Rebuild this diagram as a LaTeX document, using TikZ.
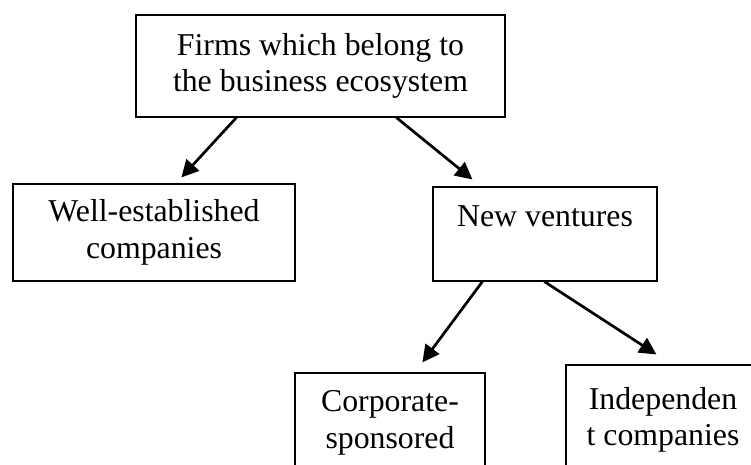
\documentclass[tikz,border=0pt]{standalone}
\usepackage{fontspec}
\setmainfont{Liberation Serif}
\usetikzlibrary{arrows.meta}
\begin{document}
\begin{tikzpicture}[x=1pt,y=-1pt,
  box/.style={draw=black,line width=1.2pt,rectangle,inner sep=0pt,align=center,
    font=\fontsize{31.8}{36.5}\selectfont},
  caption/.style={inner sep=0pt,align=center,font=\fontsize{31.8}{36.5}\selectfont},
  arr/.style={line width=2.7pt,-{Triangle[length=17pt,width=17pt]}}]
\useasboundingbox (0,0) rectangle (751,465);
\clip (0,0) rectangle (751,465);
\fill[white] (0,0) rectangle (751,465);
% hierarchy boxes
\node[box,minimum width=369pt,minimum height=102pt] (firms) at (320.5,66)
  {Firms which belong to\\the business ecosystem};
\node[box,minimum width=282pt,minimum height=97pt] (well) at (154,232.5)
  {Well-established\\companies};
\node[box,minimum width=224pt,minimum height=94pt] (new) at (545,234)
  {New ventures\\\mbox{}};
\node[box,minimum width=190pt,minimum height=120pt] (corp) at (390,433) {};
\node[caption] (corptext) at (390,423) {Corporate-\\sponsored};
\node[box,minimum width=194pt,minimum height=120pt] (indep) at (663,425) {};
\node[caption] (indeptext) at (663,420) {Independen\\t companies};
% connectors
\draw[arr] ([xshift=101pt]firms.south west) -- ([xshift=169pt,yshift=6pt]well.north west);
\draw[arr] ([xshift=261pt]firms.south west) -- ([xshift=40pt,yshift=7pt]new.north west);
\draw[arr] ([xshift=50pt]new.south west) -- ([xshift=128pt,yshift=10pt]corp.north west);
\draw[arr] ([xshift=112pt]new.south west) -- ([xshift=91pt,yshift=10pt]indep.north west);
\end{tikzpicture}
\end{document}
